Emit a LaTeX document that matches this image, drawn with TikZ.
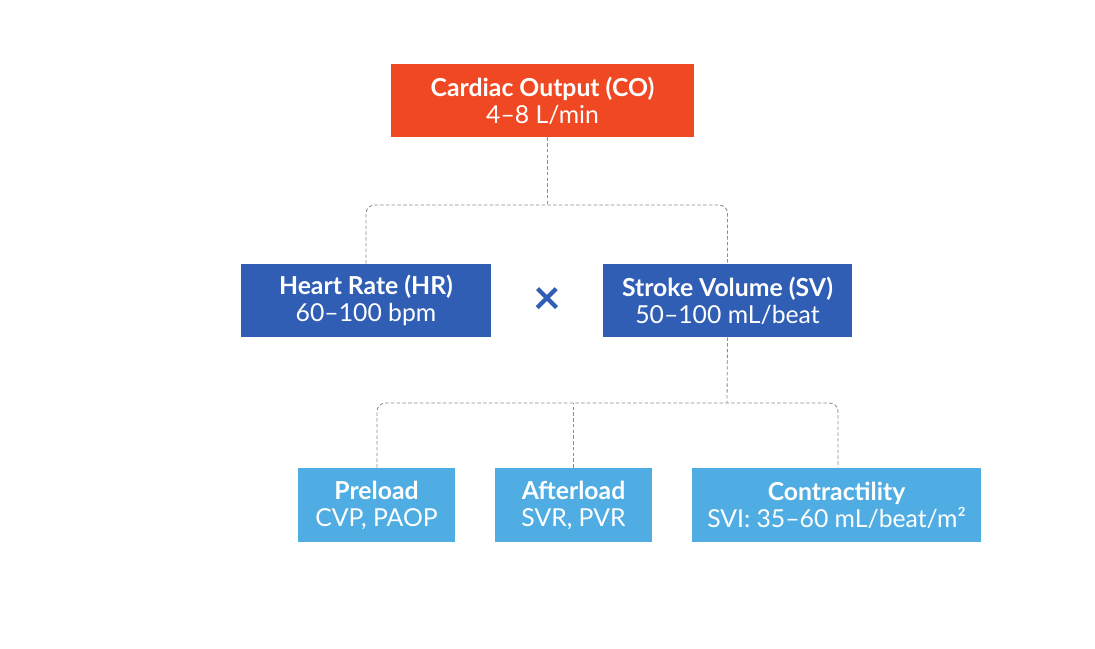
\documentclass[tikz,border=0pt]{standalone}
\usepackage{fontspec}
\setmainfont{Lato}
\usepackage{tikz}
\usetikzlibrary{positioning, calc}
\definecolor{COred}{RGB}{240, 72, 35}
\definecolor{MidBlue}{RGB}{47, 94, 180}
\definecolor{SkyBlue}{RGB}{79, 173, 227}
\definecolor{LinkGray}{RGB}{140, 140, 140}

\begin{document}
\begin{tikzpicture}[
    x=0.025cm, y=-0.025cm,
    box/.style={inner sep=0pt, align=center, text=white,
      font=\fontsize{17.6}{19.2}\selectfont},
    topbox/.style={box, fill=COred, minimum width=303*0.025cm, minimum height=73*0.025cm},
    midbox/.style={box, fill=MidBlue, minimum height=73*0.025cm},
    lowbox/.style={box, fill=SkyBlue, minimum height=74*0.025cm},
    link/.style={draw=LinkGray, dashed, dash pattern=on 2.5pt off 1.6pt, line width=0.6pt, rounded corners=6pt}
  ]
    \useasboundingbox (0,0) rectangle (1095,649);

    % Top
    \node[topbox] (co) at (542.5, 100.5) {\textbf{Cardiac Output (CO)}\\4–8 L/min};

    % Middle row
    \node[midbox, minimum width=250*0.025cm] (hr) at (366, 300.5) {\textbf{Heart Rate (HR)}\\60–100 bpm};
    \node[midbox, minimum width=249*0.025cm] (sv) at (727.5, 300.5) {\textbf{Stroke Volume (SV)}\\50–100 mL/beat};
    \node[text=MidBlue, font=\fontsize{34}{34}\selectfont\bfseries] (times) at (547, 301) {×};

    % Bottom row
    \node[lowbox, minimum width=157*0.025cm] (pre) at (376.5, 505) {\textbf{Preload}\\CVP, PAOP};
    \node[lowbox, minimum width=157*0.025cm] (aft) at (573.5, 505) {\textbf{Afterload}\\SVR, PVR};
    \node[lowbox, minimum width=289*0.025cm] (con) at (836.5, 505) {\textbf{Contractility}\\SVI: 35–60 mL/beat/m²};

    % Links
    \coordinate (j1) at (547, 205);
    \coordinate (j2) at (727, 403);
    \draw[link] (j1 |- co.south) -- (j1);
    \draw[link] (hr.north) |- (j1) -| (sv.north);
    \draw[link] (sv.south) -- (j2);
    \draw[link] (pre.north -| 377,0) |- (j2) -| (con.north -| 838,0);
    \draw[link] (aft.north) -- (aft.north |- j2);
  \end{tikzpicture}
\end{document}
